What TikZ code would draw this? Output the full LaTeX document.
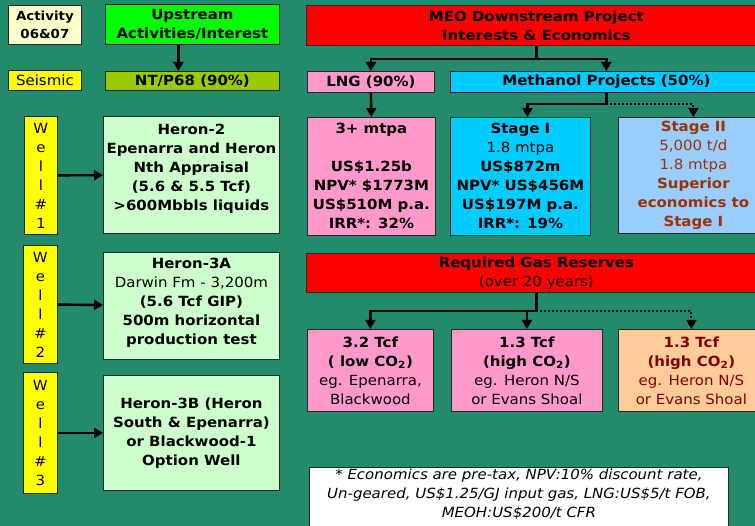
\documentclass[tikz,border=0pt]{standalone}
\usepackage{fontspec}
\setmainfont{DejaVu Sans}[FakeStretch=1.07]
\usetikzlibrary{arrows.meta}
\definecolor{bggreen}{RGB}{36,138,108}
\definecolor{actyellow}{RGB}{255,255,204}
\definecolor{upgreen}{RGB}{0,255,0}
\definecolor{olive}{RGB}{153,204,0}
\definecolor{wellyellow}{RGB}{255,255,0}
\definecolor{palegreen}{RGB}{204,255,204}
\definecolor{meored}{RGB}{255,0,0}
\definecolor{lngpink}{RGB}{255,153,204}
\definecolor{methcyan}{RGB}{0,204,255}
\definecolor{stagetwo}{RGB}{153,204,255}
\definecolor{peach}{RGB}{255,204,153}
\definecolor{browntext}{RGB}{153,51,0}
\definecolor{maroontext}{RGB}{128,0,0}

\begin{document}
\begin{tikzpicture}[x=1pt,y=-1pt,
  box/.style={draw=black!85,line width=0.8pt,align=center,inner sep=1pt,anchor=north west,font=\bfseries\fontsize{14}{19}\selectfont},
  plain/.style={font=\mdseries\fontsize{14}{19}\selectfont},
  arr/.style={line width=2.4pt,-{Triangle[width=10pt,length=9pt]}},
  dots/.style={line width=2pt,dotted,-{Triangle[width=10pt,length=9pt]}}]
\clip (0,0) rectangle (755,526);
\fill[bggreen] (0,0) rectangle (755,526);

% upstream side
\node[box,fill=actyellow,minimum width=73,minimum height=39,font=\bfseries\fontsize{12.5}{18}\selectfont] (act) at (8,5) {Activity\\06\&07};
\node[box,fill=upgreen,minimum width=174,minimum height=40] (up) at (105,4) {Upstream\\Activities/Interest};
\node[box,plain,fill=wellyellow,minimum width=73,minimum height=20] (seis) at (8,70) {Seismic};
\node[box,fill=olive,minimum width=174,minimum height=19] (ntp) at (105,71) {NT/P68 (90\%)};
\node[box,plain,fill=wellyellow,minimum width=33,minimum height=118] (well1) at (24,116) {W\\e\\l\\l\\\#\\1};
\node[box,fill=palegreen,minimum width=176,minimum height=117] (heron2) at (103,116) {Heron-2\\Epenarra and Heron\\Nth Appraisal\\(5.6 \& 5.5 Tcf)\\>600Mbbls liquids\\[-3pt]\mbox{}};
\node[box,plain,fill=wellyellow,minimum width=34,minimum height=118] (well2) at (23,245) {W\\e\\l\\l\\\#\\2};
\node[box,fill=palegreen,minimum width=176,minimum height=107] (heron3a) at (103,252) {Heron-3A\\{\mdseries Darwin Fm - 3,200m}\\(5.6 Tcf GIP)\\500m horizontal\\production test\\[-9pt]\mbox{}};
\node[box,plain,fill=wellyellow,minimum width=34,minimum height=121] (well3) at (23,372) {W\\e\\l\\l\\\#\\3};
\node[box,fill=palegreen,minimum width=176,minimum height=115] (heron3b) at (103,375) {Heron-3B (Heron\\South \& Epenarra)\\or Blackwood-1\\Option Well};

% downstream side
\node[box,fill=meored,minimum width=460,minimum height=40] (meo) at (306,5) {MEO Downstream Project\\Interests \& Economics};
\node[box,fill=lngpink,minimum width=127,minimum height=21] (lng) at (307,71) {LNG (90\%)};
\node[box,fill=methcyan,minimum width=312,minimum height=21] (meth) at (450,71) {Methanol Projects (50\%)};
\node[box,fill=lngpink,minimum width=128,minimum height=118] (lngecon) at (307,117) {3+ mtpa\\[19pt]US\$1.25b\\NPV* \$1773M\\US\$510M p.a.\\IRR*: 32\%};
\node[box,fill=methcyan,minimum width=140,minimum height=118] (stage1) at (450,117) {Stage I\\{\mdseries 1.8 mtpa}\\US\$872m\\NPV* US\$456M\\US\$197M p.a.\\IRR*: 19\%};
\node[box,fill=stagetwo,text=browntext,minimum width=150,minimum height=116] (stage2) at (618,117) {Stage II\\{\mdseries 5,000 t/d}\\{\mdseries 1.8 mtpa}\\Superior\\economics to\\Stage I};
\node[box,fill=meored,minimum width=460,minimum height=39] (gas) at (306,253) {Required Gas Reserves\\{\mdseries (over 20 years)}};
\node[box,fill=lngpink,minimum width=126,minimum height=82] (lowco) at (307,329) {3.2 Tcf\\( low CO\textsubscript{2})\\{\mdseries eg. Epenarra,}\\{\mdseries Blackwood}};
\node[box,fill=lngpink,minimum width=151,minimum height=82] (highco) at (451,329) {1.3 Tcf\\(high CO\textsubscript{2})\\{\mdseries eg. Heron N/S}\\{\mdseries or Evans Shoal}};
\node[box,fill=peach,text=maroontext,minimum width=146,minimum height=82] (highcob) at (618,329) {1.3 Tcf\\(high CO\textsubscript{2})\\{\mdseries eg. Heron N/S}\\{\mdseries or Evans Shoal}};
\node[box,fill=white,minimum width=419,minimum height=66,font=\itshape\mdseries\fontsize{14}{19}\selectfont] (note) at (309,467) {* Economics are pre-tax, NPV:10\% discount rate,\\Un-geared, US\$1.25/GJ input gas, LNG:US\$5/t FOB,\\MEOH:US\$200/t CFR\\[8pt]};

% connectors
\draw[arr] ([xshift=-14pt]up.south) -- ([xshift=-14pt]ntp.north);
\draw[arr] (well1) -- (heron2);
\draw[arr] (well2) -- (heron3a);
\draw[arr] (well3) -- (heron3b);
\coordinate (mj) at ([yshift=-13pt]meo.south);
\draw[arr] (meo.south) -- (mj) -| (lng.north);
\draw[arr] (mj) -| (meth.north);
\coordinate (mj2) at ([yshift=-11pt]meth.south);
\draw[arr] (lng.south) -- (lngecon.north);
\draw[arr] (meth.south) -- (mj2) -| ([xshift=7pt]stage1.north);
\draw[dots] (mj2) -| (stage2.north);
\coordinate (gj) at ([yshift=-18pt]gas.south);
\draw[arr] (gas.south) -- (gj) -| (lowco.north);
\draw[arr] (gj) -| (highco.north);
\draw[dots] (gj) -| (highcob.north);
\end{tikzpicture}
\end{document}
